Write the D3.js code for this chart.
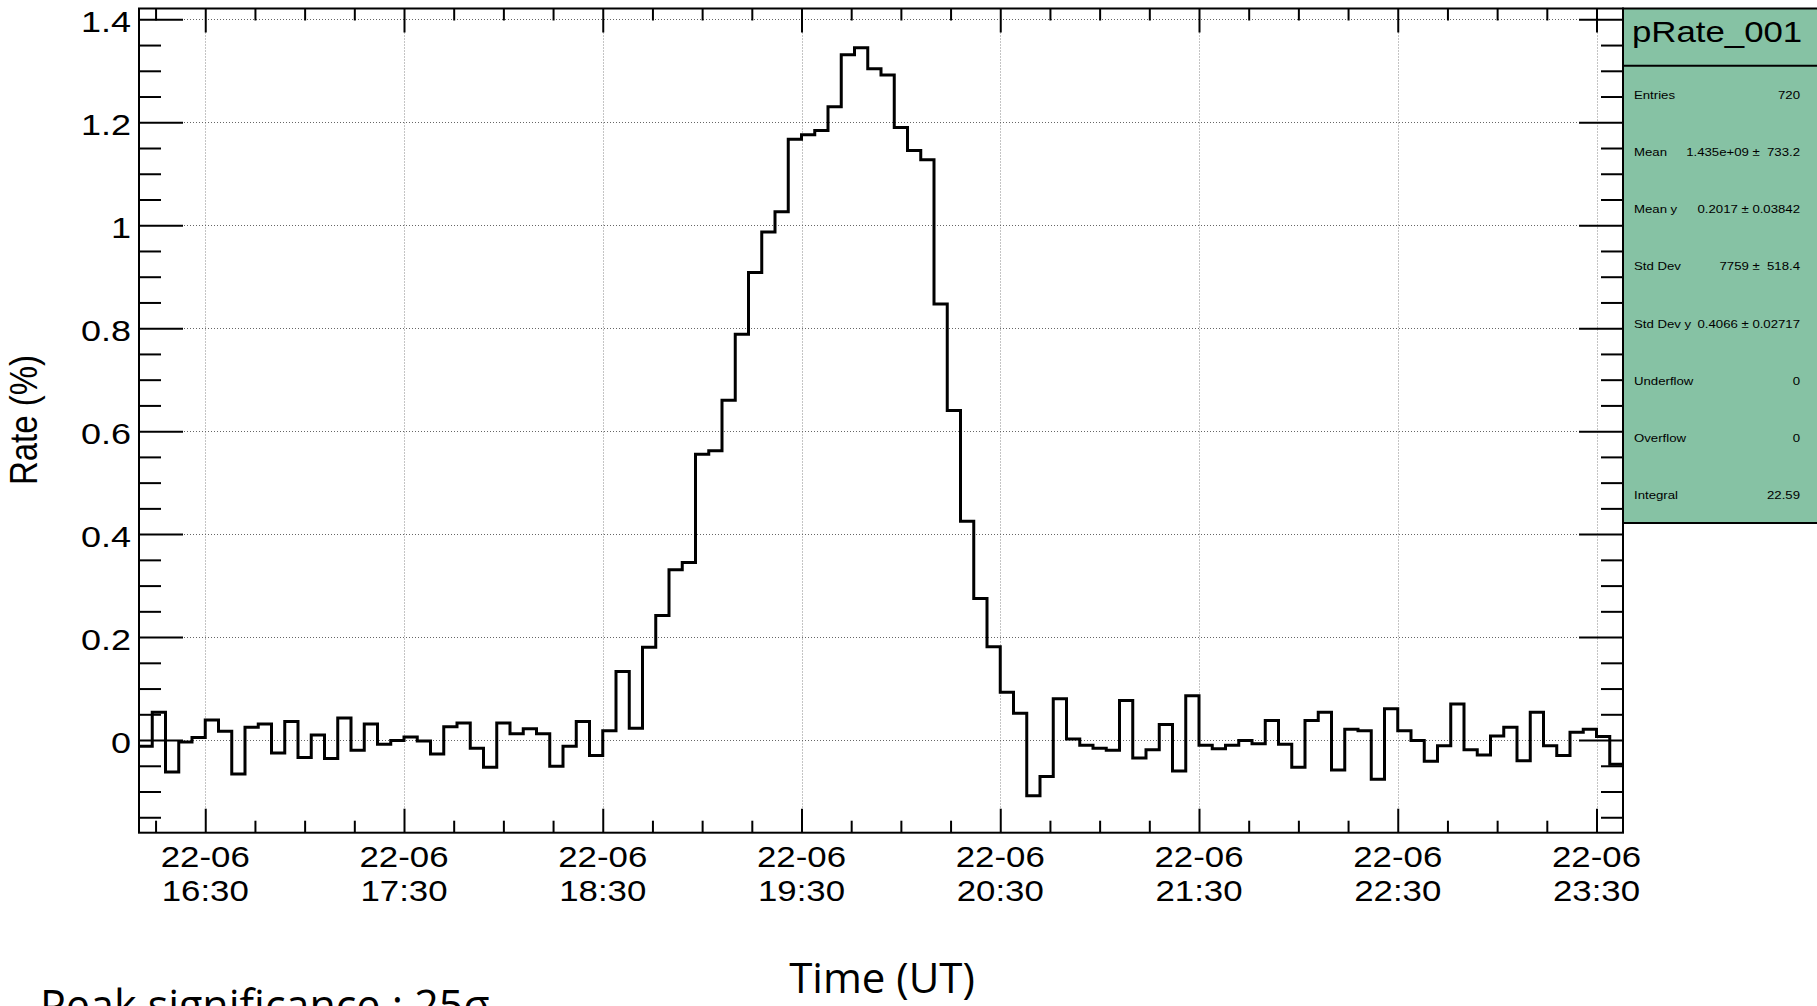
<!DOCTYPE html>
<html>
<head>
<meta charset="utf-8">
<script src="https://cdn.jsdelivr.net/npm/d3@7"></script>
<style>
  html, body { margin: 0; padding: 0; background: #fff; }
  svg { display: block; }
</style>
</head>
<body>
<div id="chart"></div>
<script>
// 4-minute bins starting 22-06 16:10 UT
const binStart = "2015-06-22T16:10:00Z";
const binMinutes = 4;
const rates = [
  -0.012, 0.054, -0.062, -0.004, 0.005, 0.039, 0.017, -0.066, 0.025, 0.031,
  -0.025, 0.036, -0.034, 0.010, -0.036, 0.043, -0.020, 0.031, -0.008, -0.001,
  0.006, -0.002, -0.027, 0.026, 0.033, -0.016, -0.053, 0.033, 0.012, 0.022,
  0.012, -0.051, -0.012, 0.036, -0.030, 0.018, 0.133, 0.023, 0.180, 0.242,
  0.331, 0.345, 0.555, 0.562, 0.660, 0.788, 0.908, 0.987, 1.026, 1.167,
  1.176, 1.184, 1.230, 1.331, 1.345, 1.304, 1.292, 1.190, 1.145, 1.127,
  0.847, 0.640, 0.425, 0.275, 0.181, 0.093, 0.052, -0.108, -0.071, 0.080,
  0.002, -0.010, -0.016, -0.020, 0.077, -0.035, -0.019, 0.030, -0.060, 0.086,
  -0.010, -0.017, -0.010, -0.001, -0.007, 0.038, -0.008, -0.053, 0.038, 0.054,
  -0.058, 0.021, 0.018, -0.076, 0.061, 0.018, -0.001, -0.041, -0.011, 0.070,
  -0.019, -0.029, 0.008, 0.025, -0.040, 0.054, -0.011, -0.030, 0.015, 0.021,
  0.007, -0.047
];
const xMajorTimes = ["16:30", "17:30", "18:30", "19:30", "20:30", "21:30", "22:30", "23:30"];
const xDateLabel = "22-06";
const yRange = [-0.18, 1.421];

const statsTitle = "pRate_001";
const statsNames = ["Entries", "Mean", "Mean y", "Std Dev", "Std Dev y", "Underflow", "Overflow", "Integral"];
const statsValues = ["720", "1.435e+09 \u00b1  733.2", "0.2017 \u00b1 0.03842", "7759 \u00b1  518.4",
  "0.4066 \u00b1 0.02717", "0", "0", "22.59"];

const W = 1817, H = 1006;
const frame = { left: 139, right: 1623, top: 8.5, bottom: 832.7 };
const rootFont = "'Liberation Sans', Arial, Helvetica, sans-serif";
const sx = 1.2; // the ROOT canvas was stretched horizontally when pasted

const t0 = new Date(binStart);
const edges = d3.range(rates.length + 1).map(i => d3.utcMinute.offset(t0, i * binMinutes));

const x = d3.scaleUtc()
  .domain([edges[0], edges[edges.length - 1]])
  .range([frame.left, frame.right]);
const y = d3.scaleLinear().domain(yRange).range([frame.bottom, frame.top]);

const svg = d3.select("#chart").append("svg")
  .attr("width", W).attr("height", H)
  .attr("xmlns", "http://www.w3.org/2000/svg");

svg.append("rect").attr("width", W).attr("height", H).attr("fill", "#fff");

const majors = xMajorTimes.map(s => new Date("2015-06-22T" + s + ":00Z"));
const minors = d3.utcMinute.every(15).range(edges[0], edges[edges.length - 1])
  .filter(d => d.getUTCMinutes() !== 30);
const yMajor = y.ticks(8);
const yMinor = y.ticks(32).filter(v => !yMajor.some(m => Math.abs(m - v) < 1e-9));

// grid
const grid = svg.append("g").attr("stroke", "#666").attr("stroke-width", 1)
  .attr("stroke-dasharray", "1,2");
grid.selectAll(".gx").data(majors).join("line")
  .attr("x1", d => Math.round(x(d)) + 0.5).attr("x2", d => Math.round(x(d)) + 0.5)
  .attr("y1", frame.top).attr("y2", frame.bottom).attr("stroke", "#888");
grid.selectAll(".gy").data(yMajor).join("line")
  .attr("x1", frame.left).attr("x2", frame.right)
  .attr("y1", d => Math.round(y(d)) + 0.5).attr("y2", d => Math.round(y(d)) + 0.5);

// histogram
let dPath = "";
rates.forEach((v, i) => {
  const xa = x(edges[i]), xb = x(edges[i + 1]), yy = y(v);
  dPath += (i === 0 ? "M" : "L") + xa + "," + yy + "L" + xb + "," + yy;
});
svg.append("path").attr("d", dPath).attr("fill", "none")
  .attr("stroke", "#000").attr("stroke-width", 3).attr("stroke-linejoin", "miter");

// axes (ROOT style: ticks inside the frame, on all four sides)
function styleAxis(g) {
  g.select(".domain").remove();
  g.selectAll("line").attr("stroke", "#000").attr("stroke-width", 2);
  g.selectAll("text").remove();
}
const xl = 24, xs = 12, yl = 44, ys = 22;
svg.append("g").attr("transform", `translate(0,${frame.bottom})`)
  .call(d3.axisBottom(x).tickValues(majors).tickSize(-xl)).call(styleAxis);
svg.append("g").attr("transform", `translate(0,${frame.bottom})`)
  .call(d3.axisBottom(x).tickValues(minors).tickSize(-xs)).call(styleAxis);
svg.append("g").attr("transform", `translate(0,${frame.top})`)
  .call(d3.axisTop(x).tickValues(majors).tickSize(-xl)).call(styleAxis);
svg.append("g").attr("transform", `translate(0,${frame.top})`)
  .call(d3.axisTop(x).tickValues(minors).tickSize(-xs)).call(styleAxis);
svg.append("g").attr("transform", `translate(${frame.left},0)`)
  .call(d3.axisLeft(y).tickValues(yMajor).tickSize(-yl)).call(styleAxis);
svg.append("g").attr("transform", `translate(${frame.left},0)`)
  .call(d3.axisLeft(y).tickValues(yMinor).tickSize(-ys)).call(styleAxis);
svg.append("g").attr("transform", `translate(${frame.right},0)`)
  .call(d3.axisRight(y).tickValues(yMajor).tickSize(-yl)).call(styleAxis);
svg.append("g").attr("transform", `translate(${frame.right},0)`)
  .call(d3.axisRight(y).tickValues(yMinor).tickSize(-ys)).call(styleAxis);

svg.append("rect")
  .attr("x", frame.left).attr("y", frame.top)
  .attr("width", frame.right - frame.left).attr("height", frame.bottom - frame.top)
  .attr("fill", "none").attr("stroke", "#000").attr("stroke-width", 2);

// tick labels
const yFmt = d => d === 0 ? "0" : d3.format("~g")(d);
svg.append("g").selectAll("text").data(yMajor).join("text")
  .attr("transform", d => `translate(131,${y(d) + 12.5}) scale(${sx},1)`)
  .attr("text-anchor", "end")
  .attr("font-family", rootFont).attr("font-size", 30)
  .text(yFmt);

const xLab = svg.append("g").selectAll("g").data(majors).join("g")
  .attr("transform", d => `translate(${x(d)},0)`);
xLab.append("text")
  .attr("transform", `translate(0,867) scale(${sx},1)`)
  .attr("text-anchor", "middle").attr("font-family", rootFont).attr("font-size", 29)
  .text(xDateLabel);
xLab.append("text")
  .attr("transform", `translate(0,901) scale(${sx},1)`)
  .attr("text-anchor", "middle").attr("font-family", rootFont).attr("font-size", 29)
  .text(d => d3.utcFormat("%H:%M")(d));

// y title
svg.append("text")
  .attr("transform", `translate(37,${420}) scale(${sx},1) rotate(-90)`)
  .attr("text-anchor", "middle").attr("font-family", rootFont).attr("font-size", 33)
  .text("Rate (%)");

// stats box
const box = { x: 1623, y: frame.top, w: 260, h: 514.5 };
svg.append("rect").attr("x", box.x).attr("y", box.y).attr("width", box.w).attr("height", box.h)
  .attr("fill", "#86c2a4").attr("stroke", "#000").attr("stroke-width", 2);
svg.append("line").attr("x1", box.x).attr("x2", box.x + box.w)
  .attr("y1", 65.7).attr("y2", 65.7).attr("stroke", "#000").attr("stroke-width", 2);
svg.append("text")
  .attr("transform", `translate(1632,42) scale(${sx},1)`)
  .attr("font-family", rootFont).attr("font-size", 29)
  .text(statsTitle);
const rowY = d3.scalePoint().domain(statsNames).range([95, 495]);
const rows = svg.append("g").selectAll("g").data(statsNames).join("g");
rows.append("text")
  .attr("transform", d => `translate(1634,${rowY(d) + 4}) scale(${sx},1)`)
  .attr("font-family", rootFont).attr("font-size", 11)
  .text(d => d);
rows.append("text")
  .attr("transform", d => `translate(1800,${rowY(d) + 4}) scale(${sx},1)`)
  .attr("text-anchor", "end").attr("font-family", rootFont).attr("font-size", 11)
  .attr("xml:space", "preserve").style("white-space", "pre")
  .text((d, i) => statsValues[i]);

// slide texts
svg.append("text")
  .attr("x", 882).attr("y", 993)
  .attr("text-anchor", "middle").attr("font-family", "'Open Sans', sans-serif").attr("font-size", 42)
  .text("Time (UT)");
svg.append("text")
  .attr("x", 40).attr("y", 1021)
  .attr("font-family", "'Open Sans', sans-serif").attr("font-size", 43)
  .text("Peak significance : 25\u03c3");
</script>
</body>
</html>
